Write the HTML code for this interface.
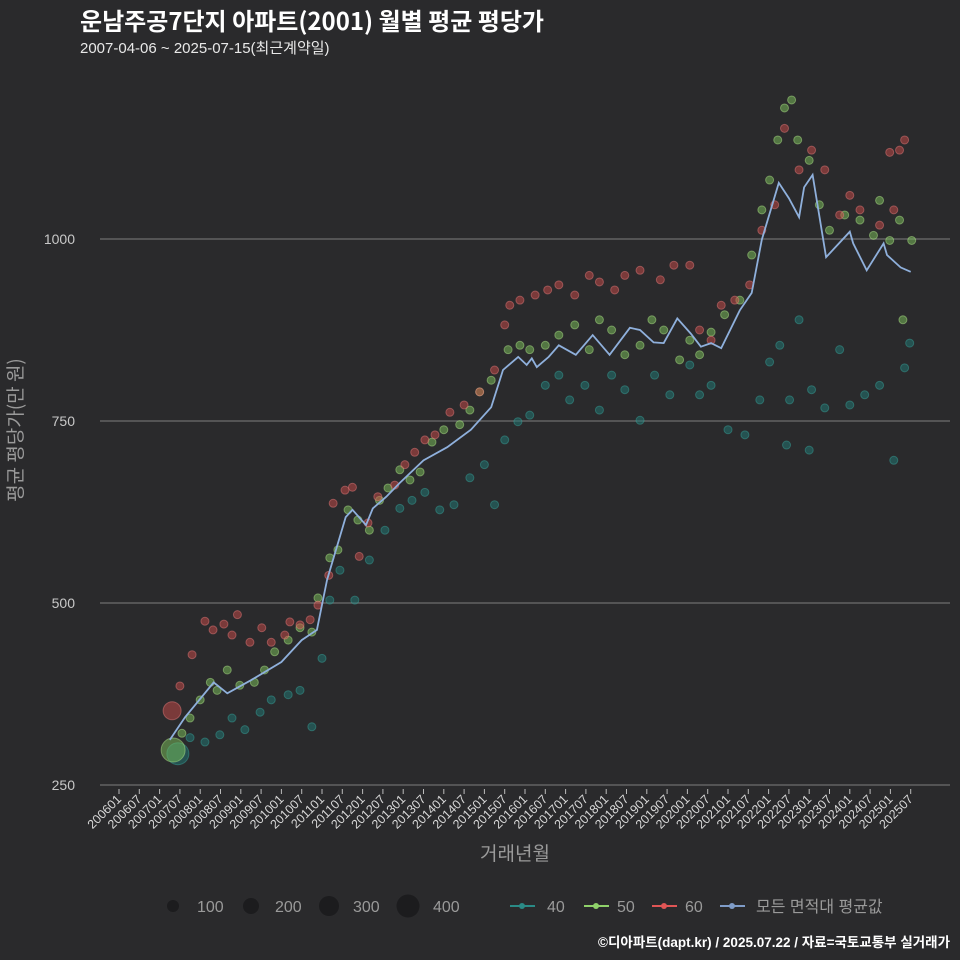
<!DOCTYPE html>
<html><head><meta charset="utf-8">
<style>
body{margin:0;background:#2a2a2c;}
svg{display:block;font-family:"Liberation Sans","Noto Sans CJK KR",sans-serif;}
</style></head>
<body>
<svg id="chart" width="960" height="960" viewBox="0 0 960 960" xmlns="http://www.w3.org/2000/svg">
<rect width="960" height="960" fill="#2a2a2c"/>
<text x="80" y="30" fill="#ffffff" font-size="24" font-weight="bold" font-family="'Noto Sans CJK KR',sans-serif">운남주공7단지 아파트(2001) 월별 평균 평당가</text>
<text x="80" y="53" fill="#e8e8e8" font-size="15">2007-04-06 ~ 2025-07-15(최근계약일)</text>
<g id="grid"></g>
<g id="points"></g>
<g id="line"></g>
<g id="xaxis"></g>
<text x="515" y="860" fill="#9a9a9a" font-size="19" text-anchor="middle">거래년월</text>
<text transform="translate(22,430) rotate(-90)" fill="#9a9a9a" font-size="19" text-anchor="middle" font-family="'Noto Sans CJK KR',sans-serif">평균 평당가(만 원)</text>
<g>
<circle cx="173" cy="906" r="6" fill="#1c1c1e"/>
<text x="197" y="912" fill="#9a9a9a" font-size="16">100</text>
<circle cx="251" cy="906" r="8" fill="#1c1c1e"/>
<text x="275" y="912" fill="#9a9a9a" font-size="16">200</text>
<circle cx="329" cy="906" r="10" fill="#1c1c1e"/>
<text x="353" y="912" fill="#9a9a9a" font-size="16">300</text>
<circle cx="408" cy="906" r="11.5" fill="#1c1c1e"/>
<text x="433" y="912" fill="#9a9a9a" font-size="16">400</text>
</g>
<g>
<line x1="510" y1="906" x2="535" y2="906" stroke="#2a8a86" stroke-width="2"/><circle cx="522" cy="906" r="3" fill="#2a8a86"/>
<text x="547" y="912" fill="#9a9a9a" font-size="16">40</text>
<line x1="584" y1="906" x2="609" y2="906" stroke="#8fd16a" stroke-width="2"/><circle cx="596" cy="906" r="3" fill="#8fd16a"/>
<text x="617" y="912" fill="#9a9a9a" font-size="16">50</text>
<line x1="652" y1="906" x2="677" y2="906" stroke="#e05555" stroke-width="2"/><circle cx="664" cy="906" r="3" fill="#e05555"/>
<text x="685" y="912" fill="#9a9a9a" font-size="16">60</text>
<line x1="720" y1="906" x2="745" y2="906" stroke="#7f9cc8" stroke-width="2"/><circle cx="732" cy="906" r="3" fill="#7f9cc8"/>
<text x="756" y="912" fill="#9a9a9a" font-size="16">모든 면적대 평균값</text>
</g>
<text x="950" y="947" fill="#ffffff" font-size="13.5" font-weight="bold" text-anchor="end">©디아파트(dapt.kr) / 2025.07.22 / 자료=국토교통부 실거래가</text>
</svg>
<script>
const yTicks = [250, 500, 750, 1000];
const xTickLabels = [];
for (let y = 2006; y <= 2025; y++) { xTickLabels.push(y + "01"); xTickLabels.push(y + "07"); }
// average line: [month index from 2006-01, value]
const avgMonths = [15,19.5,28,32,39,48,54,58.5,61.5,67,69,73,75,79,83,90,97,104,110,113.5,118,120.5,122,123.5,127,130,135,140,145,151,154,158,161,165,169,172,175,178,183.5,187,190,195,198,201,202.5,205,209,216,217,221,226,227,231,234];
const avgValues = [312,343,391,376,394,419,449,463,532,618,628,607,630,646,665,696,714,738,769,820,838,827,836,824,838,854,841,868,841,878,875,858,857,891,870,852,857,850,902,926,999,1077,1056,1030,1071,1088,975,1010,994,957,994,978,961,955];
const s40 = [[17.4,293,11],[21,315],[25.4,309],[29.8,319],[33.4,342],[37.2,326],[41.7,350],[45,367],[50,374],[53.5,380],[57,330],[60,424],[62.3,504],[65.3,545],[69.7,504],[74,559],[78.6,600],[83,630],[86.6,641],[90.4,652],[94.8,628],[99,635],[103.7,672],[108,690],[111,635],[114,724],[117.9,749],[121.4,758],[126,799],[130,813],[133.2,779],[137.7,799],[142,765],[145.6,813],[149.5,793],[154,751],[158.3,813],[162.8,786],[168.7,827],[171.6,786],[175,799],[180,738],[185,731],[189.4,779],[192.3,831],[195.3,854],[198.2,779],[201,889],[204.7,793],[208.6,768],[213,848],[216,772],[220.4,786],[224.8,799],[229,696],[232.2,823],[233.7,857],[197.3,717],[204,710]];
const s50 = [[16,298,12],[18.6,321],[21,342],[24,367],[27,391],[29,380],[32,408],[35.7,387],[40,391],[43,408],[46,433],[50,449],[53.5,466],[57,460],[58.8,507],[62.3,562],[64.7,573],[67.7,628],[70.6,614],[74,600],[77,641],[79.5,658],[83,683],[86,669],[89,680],[92.5,721],[96,738],[100.7,745],[103.7,765],[106.6,790],[110,806],[115,848],[118.5,854],[121.4,848],[126,854],[130,868],[134.7,882],[139,848],[142,889],[145.6,875],[149.5,841],[154,854],[157.5,889],[161,875],[165.7,834],[168.7,861],[171.6,841],[175,872],[179,896],[183.5,916],[187,978],[190,1040],[192.3,1081],[194.7,1136],[196.7,1180],[198.8,1191],[200.6,1136],[204,1108],[207,1047],[210,1012],[214.5,1033],[219,1026],[223,1005],[224.8,1053],[227.8,998],[230.7,1026],[231.7,889],[234.3,998]];
const s60 = [[15.7,352,9],[18,386],[21.6,429],[25.4,475],[27.8,463],[31,471],[33.4,456],[35,484],[38.7,446],[42.2,466],[45,446],[49,456],[50.5,474],[53.5,470],[56.5,477],[58.8,497],[62,538],[63.3,637],[66.8,655],[69,659],[71,564],[73.6,610],[76.5,646],[81.5,662],[84.5,690],[87.4,707],[90.4,724],[93.4,731],[97.8,762],[102,772],[106.6,790],[111,820],[114,882],[115.5,909],[118.5,916],[123,923],[126.7,930],[130,937],[134.7,923],[139,950],[142,941],[146.5,930],[149.5,950],[154,957],[160,944],[164,964],[168.7,964],[171.6,875],[175,861],[178,909],[182,916],[186.4,937],[190,1012],[193.8,1047],[196.7,1152],[201,1095],[204.7,1122],[208.6,1095],[213,1033],[216,1060],[219,1040],[224.8,1019],[227.8,1119],[230.7,1122],[232.2,1136],[229,1040]];

const NS = "http://www.w3.org/2000/svg";
function xScale(m){ return 119 + m * 20.3 / 6; }
function yScale(v){ return 785 - (v - 250) * 182 / 250; }
function mk(tag, attrs, parent){ const e = document.createElementNS(NS, tag); for (const k in attrs) e.setAttribute(k, attrs[k]); parent.appendChild(e); return e; }

const grid = document.getElementById('grid');
yTicks.forEach(t => {
  const l = mk('line', {x1:100, x2:950, y1:yScale(t), y2:yScale(t), stroke:'#6e6e6e', 'stroke-width':1.2}, grid);
  
  
  const tx = mk('text', {x:75, y:yScale(t)+5, fill:'#c8c8c8', 'font-size':14, 'text-anchor':'end'}, grid);
  tx.textContent = t;
  
  
});

const xa = document.getElementById('xaxis');
xTickLabels.forEach((lab, i) => {
  const x = xScale(i * 6);
  const tk = mk('line', {x1:x, x2:x, y1:789, y2:794, stroke:'#bbbbbb', 'stroke-width':1}, xa);
  
  
  const t = mk('text', {x:x+3, y:800, fill:'#d8d8d8', 'font-size':12.5, 'text-anchor':'end', transform:'rotate(-45 ' + (x+3) + ' 800)'}, xa);
  t.textContent = lab;
  
  
});

const pts = document.getElementById('points');
function drawSeries(arr, fill, stroke, name){
  arr.forEach((p, i) => {
    const c = mk('circle', {cx:xScale(p[0]), cy:yScale(p[1]), r:p[2] || 4, fill:fill, 'fill-opacity':0.5, stroke:stroke, 'stroke-opacity':0.45, 'stroke-width':1}, pts);
    
    
  });
}
drawSeries(s40, '#1f7a76', '#3aa8a0', 'series-40');
drawSeries(s50, '#7cc25a', '#b8ef90', 'series-50');
drawSeries(s60, '#c94a48', '#f08080', 'series-60');

const lg = document.getElementById('line');
const d = avgMonths.map((m, i) => (i ? 'L' : 'M') + xScale(m).toFixed(1) + ',' + yScale(avgValues[i]).toFixed(1)).join(' ');
const path = mk('path', {d:d, fill:'none', stroke:'#8fb0dc', 'stroke-width':1.8}, lg);


</script>
</body></html>
